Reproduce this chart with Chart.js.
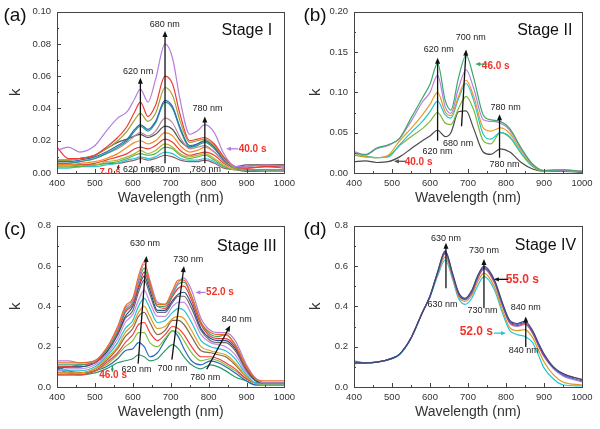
<!DOCTYPE html>
<html>
<head>
<meta charset="utf-8">
<script src="https://cdn.jsdelivr.net/npm/chart.js@4.4.1/dist/chart.umd.min.js"></script>
<style>
  body { margin: 0; background: #fff; }
  #wrap { position: relative; width: 600px; height: 429px; }
  canvas { position: absolute; }
</style>
</head>
<body>
<div id="wrap">
  <canvas id="pa" width="300" height="215" style="left:0;top:0"></canvas>
  <canvas id="pb" width="300" height="215" style="left:300px;top:0"></canvas>
  <canvas id="pc" width="300" height="215" style="left:0;top:214px"></canvas>
  <canvas id="pd" width="300" height="215" style="left:300px;top:214px"></canvas>
</div>
<script>
const FONT = '"Liberation Sans", Arial, sans-serif';

// ---- (a) Stage I : 7.0 s -> 40.0 s ----
const wlA = [400,430,460,500,530,560,585,605,620,640,660,685,705,725,750,770,790,815,840,870,900,950,1000];
const a40s = [.014,.016,.013,.017,.026,.034,.038,.046,.052,.044,.058,.080,.071,.045,.024,.026,.030,.025,.012,.004,.004,.005,.004];
const aRed1 = [.016,.009,.009,.011,.016,.022,.029,.038,.044,.035,.042,.060,.055,.036,.020,.021,.022,.018,.010,.004,.003,.004,.003];
const aOlive1 = [.008,.008,.009,.011,.015,.020,.026,.033,.037,.032,.037,.053,.048,.032,.019,.020,.021,.017,.009,.003,.002,.002,.002];
const aBlue = [.007,.007,.008,.010,.013,.017,.021,.027,.030,.027,.032,.045,.041,.028,.017,.018,.020,.016,.008,.003,.002,.002,.002];
const aTeal = [.006,.006,.007,.009,.012,.016,.020,.026,.029,.026,.031,.044,.040,.027,.016,.017,.019,.015,.008,.003,.002,.002,.002];
const aMauve = [.006,.006,.007,.009,.012,.015,.019,.023,.025,.023,.026,.034,.031,.022,.015,.016,.017,.013,.007,.003,.002,.002,.002];
const aGrey = [.008,.008,.009,.011,.015,.019,.021,.023,.024,.022,.024,.029,.027,.020,.016,.018,.020,.016,.009,.004,.005,.005,.005];
const aOrange = [.005,.005,.006,.007,.009,.012,.016,.019,.020,.018,.020,.025,.023,.017,.013,.014,.016,.013,.007,.003,.004,.005,.005];
const aRed2 = [.005,.005,.005,.006,.008,.010,.012,.015,.016,.015,.017,.021,.019,.014,.011,.012,.013,.011,.006,.003,.003,.004,.004];
const aOlive2 = [.004,.004,.005,.005,.007,.008,.010,.012,.014,.012,.014,.018,.016,.012,.010,.011,.012,.009,.005,.002,.002,.002,.002];
const aGreen = [.004,.004,.004,.005,.006,.007,.009,.011,.012,.011,.012,.016,.015,.011,.009,.010,.011,.008,.004,.002,.002,.002,.002];
const aCyan = [.003,.003,.004,.004,.005,.006,.008,.009,.010,.009,.010,.013,.012,.009,.008,.008,.009,.007,.004,.002,.002,.001,.001];
const a7s = [.004,.004,.004,.005,.006,.006,.007,.008,.009,.008,.009,.011,.010,.008,.007,.007,.008,.006,.003,.002,.001,.001,.001];

// ---- (b) Stage II : 40.0 s -> 46.0 s ----
const wlB = [400,430,460,490,520,550,580,600,620,640,655,675,695,715,740,760,785,810,840,870,900,950,1000];
const b46s = [.025,.023,.031,.035,.043,.068,.093,.110,.136,.090,.078,.118,.146,.118,.072,.066,.064,.055,.031,.011,.003,.004,.002];
const bPurple = [.027,.022,.030,.034,.043,.064,.088,.100,.121,.082,.074,.105,.128,.105,.066,.064,.062,.053,.030,.011,.003,.003,.002];
const bOrange = [.025,.020,.019,.022,.040,.055,.072,.085,.100,.076,.071,.095,.115,.095,.056,.052,.056,.049,.028,.010,.003,.003,.002];
const bCyan = [.024,.021,.019,.020,.035,.050,.064,.076,.089,.072,.068,.092,.111,.090,.048,.042,.050,.045,.025,.009,.003,.004,.002];
const bLime = [.022,.020,.019,.021,.034,.045,.055,.064,.075,.062,.060,.080,.095,.078,.040,.036,.050,.044,.024,.008,.002,.003,.002];
const b40s = [.014,.015,.013,.014,.020,.030,.040,.046,.053,.045,.050,.076,.077,.055,.026,.023,.030,.026,.013,.005,.002,.002,.001];

// ---- (c) Stage III : 46.0 s -> 52.0 s ----
const wlC = [400,430,460,500,530,560,580,600,615,630,645,665,685,705,720,735,755,780,805,825,845,870,900,925,950,1000];
const cOrange = [.12,.12,.12,.13,.19,.30,.40,.44,.55,.62,.52,.41,.41,.48,.53,.53,.45,.32,.27,.26,.26,.21,.10,.04,.03,.03];
const c52s = [.13,.13,.12,.13,.19,.29,.39,.43,.53,.61,.53,.42,.41,.47,.52,.54,.48,.34,.28,.27,.27,.23,.11,.04,.02,.02];
const cGreen = [.11,.11,.11,.13,.18,.28,.38,.42,.52,.59,.51,.40,.40,.46,.51,.52,.45,.32,.26,.25,.26,.21,.10,.04,.02,.02];
const cRed = [.10,.10,.11,.12,.18,.27,.37,.41,.50,.57,.50,.40,.39,.45,.49,.50,.43,.31,.25,.24,.24,.20,.09,.04,.02,.02];
const cNavy = [.09,.10,.10,.12,.17,.26,.35,.40,.49,.55,.48,.38,.38,.43,.46,.47,.41,.29,.24,.23,.23,.19,.09,.03,.02,.02];
const cGrey = [.10,.10,.10,.12,.17,.26,.34,.38,.47,.53,.46,.37,.37,.42,.45,.45,.39,.28,.23,.22,.22,.18,.08,.03,.02,.02];
const cLavender = [.08,.09,.09,.11,.16,.24,.32,.36,.43,.48,.42,.35,.35,.40,.42,.42,.36,.26,.22,.21,.20,.16,.07,.03,.02,.02];
const cCyan = [.08,.08,.08,.10,.15,.22,.29,.33,.40,.44,.39,.32,.33,.37,.39,.38,.32,.23,.20,.19,.18,.14,.06,.02,.02,.02];
const cGold = [.07,.07,.07,.09,.14,.20,.27,.31,.37,.40,.35,.29,.30,.34,.35,.34,.28,.20,.18,.17,.16,.12,.05,.02,.02,.02];
const cBrown = [.07,.07,.07,.09,.13,.19,.25,.29,.35,.37,.32,.26,.28,.33,.33,.31,.25,.18,.17,.16,.15,.11,.05,.02,.02,.02];
const cRed2 = [.06,.06,.06,.08,.12,.17,.22,.26,.31,.32,.27,.23,.26,.30,.29,.26,.20,.15,.15,.14,.12,.09,.04,.02,.02,.02];
const cLime = [.06,.06,.06,.08,.11,.16,.20,.23,.27,.27,.22,.20,.24,.28,.27,.23,.17,.13,.14,.13,.11,.08,.04,.02,.01,.01];
const cBlue = [.10,.08,.07,.08,.10,.14,.18,.19,.22,.20,.15,.17,.23,.28,.25,.19,.13,.11,.13,.12,.10,.07,.03,.01,.01,.01];
const c46s = [.09,.07,.06,.07,.09,.12,.13,.14,.16,.15,.13,.14,.18,.21,.19,.15,.11,.09,.11,.10,.08,.05,.03,.01,.01,.01];

// ---- (d) Stage IV : 52.0 s -> 55.0 s ----
const wlD = [400,430,460,500,520,550,580,600,620,640,660,675,692,710,725,742,770,790,810,830,850,870,885,900,925,950,1000];
const d55s = [.12,.12,.123,.142,.163,.243,.37,.45,.57,.675,.56,.47,.44,.48,.55,.60,.53,.42,.33,.315,.326,.28,.22,.165,.10,.067,.035];
const dBlue = [.12,.12,.123,.142,.163,.243,.37,.45,.57,.67,.555,.465,.437,.475,.545,.595,.525,.415,.325,.31,.32,.275,.215,.16,.095,.06,.03];
const dRed = [.125,.12,.123,.142,.163,.243,.37,.45,.565,.665,.55,.46,.435,.47,.54,.59,.52,.41,.32,.305,.315,.27,.21,.155,.095,.065,.038];
const dPurple = [.115,.12,.123,.142,.163,.243,.37,.45,.565,.66,.55,.46,.432,.465,.535,.585,.515,.405,.315,.30,.31,.265,.205,.15,.09,.055,.025];
const dOrange = [.12,.12,.123,.142,.163,.243,.37,.45,.56,.645,.54,.45,.425,.455,.52,.565,.495,.385,.295,.28,.285,.245,.185,.125,.06,.025,.01];
const d52s = [.13,.12,.123,.14,.16,.24,.37,.445,.55,.63,.53,.44,.41,.44,.50,.547,.48,.37,.28,.26,.25,.22,.16,.095,.04,.011,.005];

// draws frame, inward ticks, arrows and labels
const decor = {
    id: 'decor',
    afterDatasetsDraw(chart, args, opts) {
        const {ctx, chartArea: ca, scales: {x, y}} = chart;
        ctx.save();
        ctx.strokeStyle = '#444';
        ctx.lineWidth = 1;
        ctx.beginPath();
        for (let v = 400; v <= 1000; v += 50) {
            const px = Math.round(x.getPixelForValue(v)) + 0.5;
            const len = v % 100 === 0 ? 4 : 2;
            ctx.moveTo(px, ca.bottom);
            ctx.lineTo(px, ca.bottom - len);
        }
        const n = Math.round(y.max / (opts.yStep / 2));
        for (let i = 0; i <= n; i++) {
            const py = Math.round(y.getPixelForValue(i * opts.yStep / 2)) + 0.5;
            const len = i % 2 === 0 ? 4 : 2;
            ctx.moveTo(ca.left, py);
            ctx.lineTo(ca.left + len, py);
        }
        ctx.stroke();
        ctx.strokeRect(Math.round(ca.left) + 0.5, Math.round(ca.top) + 0.5, Math.round(ca.width), Math.round(ca.height));

        opts.arrows.forEach(a => {
            const x1 = x.getPixelForValue(a[0]), y1 = y.getPixelForValue(a[1]);
            const x2 = x.getPixelForValue(a[2]), y2 = y.getPixelForValue(a[3]);
            const col = a[4] || '#111';
            const ang = Math.atan2(y2 - y1, x2 - x1);
            const hl = a[5] || 6, hw = (a[5] || 6) * 0.42;
            ctx.strokeStyle = col;
            ctx.fillStyle = col;
            ctx.lineWidth = 1.3;
            ctx.beginPath();
            ctx.moveTo(x1, y1);
            ctx.lineTo(x2 - Math.cos(ang) * hl * 0.8, y2 - Math.sin(ang) * hl * 0.8);
            ctx.stroke();
            ctx.beginPath();
            ctx.moveTo(x2, y2);
            ctx.lineTo(x2 - Math.cos(ang) * hl - Math.sin(ang) * hw, y2 - Math.sin(ang) * hl + Math.cos(ang) * hw);
            ctx.lineTo(x2 - Math.cos(ang) * hl + Math.sin(ang) * hw, y2 - Math.sin(ang) * hl - Math.cos(ang) * hw);
            ctx.closePath();
            ctx.fill();
        });

        ctx.textAlign = 'center';
        ctx.textBaseline = 'middle';
        opts.texts.forEach(t => {
            ctx.font = (t[4] ? 'bold ' : '') + (t[3] || 9) + 'px ' + FONT;
            ctx.fillStyle = t[5] || '#222';
            ctx.fillText(t[2], x.getPixelForValue(t[0]), y.getPixelForValue(t[1]));
        });

        ctx.font = '16px ' + FONT;
        ctx.fillStyle = '#111';
        ctx.fillText(opts.stage[0], x.getPixelForValue(opts.stage[1]), y.getPixelForValue(opts.stage[2]));
        ctx.font = '19px ' + FONT;
        ctx.fillText(opts.letter, 15, 16);
        ctx.restore();
    }
};

function panel(id, wl, curves, colors, yMax, yStep, decimals, left, deco) {
    deco.yStep = yStep;
    return new Chart(document.getElementById(id), {
        type: 'line',
        data: {
            datasets: curves.map((vals, i) => ({
                data: wl.map((w, j) => ({x: w, y: vals[j]})),
                borderColor: colors[i],
                borderWidth: 1.2,
                pointRadius: 0,
                fill: false,
                cubicInterpolationMode: 'monotone',
            })),
        },
        options: {
            responsive: false,
            animation: false,
            events: [],
            layout: {
                padding: {top: 7, right: 300 - left - 228, left: 0, bottom: 0},
            },
            scales: {
                x: {
                    type: 'linear',
                    min: 400,
                    max: 1000,
                    border: {display: false},
                    grid: {display: false, drawTicks: false},
                    ticks: {
                        stepSize: 100,
                        autoSkip: false,
                        padding: 5,
                        color: '#333',
                        font: {size: 9.5, family: FONT},
                        callback: (v) => String(v),
                    },
                    title: {display: true, text: 'Wavelength (nm)', color: '#333', font: {size: 14, family: FONT}, padding: {top: 0, bottom: 8}},
                    afterFit: (s) => { s.height = 42; },
                },
                y: {
                    min: 0,
                    max: yMax,
                    border: {display: false},
                    grid: {display: false, drawTicks: false},
                    ticks: {
                        stepSize: yStep,
                        autoSkip: false,
                        padding: 6,
                        color: '#333',
                        font: {size: 9.5, family: FONT},
                        callback: (v) => v.toFixed(decimals),
                    },
                    title: {display: true, text: 'k', color: '#333', font: {size: 15, family: FONT}, padding: {top: 7, bottom: 0}},
                    afterFit: (s) => { s.width = left; },
                },
            },
            plugins: {
                legend: {display: false},
                tooltip: {enabled: false},
                decor: deco,
            },
        },
        plugins: [decor],
    });
}

const RED = '#f2342c';

panel('pa', wlA,
    [a40s, aRed1, aOlive1, aBlue, aTeal, aMauve, aGrey, aOrange, aRed2, aOlive2, aGreen, aCyan, a7s],
    ['#b57edc', '#f03c32', '#a6a035', '#2f6db5', '#1f9e8e', '#b88a9a', '#555555', '#f58a1f', '#e8403a', '#b7b33a', '#4fb34a', '#2bc4d8', '#9a5d6e'],
    0.10, 0.02, 2, 57, {
        letter: '(a)',
        stage: ['Stage I', 901, 0.088],
        arrows: [
            [620, 0.006, 620, 0.059],
            [685, 0.006, 685, 0.088],
            [790, 0.006, 790, 0.035],
            [878, 0.015, 846, 0.015, '#b57edc', 5],
            [563, 0.005, 560, 0.0015, '#8b1a1a', 4],
        ],
        texts: [
            [614, 0.063, '620 nm'],
            [684, 0.092, '680 nm'],
            [797, 0.040, '780 nm'],
            [614, 0.002, '620 nm'],
            [685, 0.002, '680 nm'],
            [793, 0.002, '780 nm'],
            [540, 0.001, '7.0 s', 9.5, true, RED],
            [916, 0.015, '40.0 s', 10, true, RED],
        ],
    });

panel('pb', wlB,
    [b46s, bPurple, bOrange, bCyan, bLime, b40s],
    ['#3aa86b', '#b57edc', '#e89b2a', '#22c5cf', '#7cb83a', '#4a4a4a'],
    0.20, 0.05, 2, 54, {
        letter: '(b)',
        stage: ['Stage II', 902, 0.177],
        arrows: [
            [620, 0.040, 620, 0.143],
            [683, 0.058, 695, 0.153],
            [783, 0.019, 783, 0.073],
            [537, 0.0145, 505, 0.0145, '#555555', 5],
            [751, 0.135, 719, 0.135, '#3aa86b', 5],
        ],
        texts: [
            [623, 0.153, '620 nm'],
            [707, 0.168, '700 nm'],
            [799, 0.081, '780 nm'],
            [620, 0.027, '620 nm'],
            [674, 0.037, '680 nm'],
            [796, 0.011, '780 nm'],
            [570, 0.013, '40.0 s', 10, true, RED],
            [773, 0.132, '46.0 s', 10, true, RED],
        ],
    });

panel('pc', wlC,
    [cOrange, c52s, cGreen, cRed, cNavy, cGrey, cLavender, cCyan, cGold, cBrown, cRed2, cLime, cBlue, c46s],
    ['#f06a1e', '#b57edc', '#3aa86b', '#e83a3a', '#2a4f8f', '#6a6a6a', '#c48fe0', '#22c0d0', '#e0a020', '#8a6a4a', '#f04040', '#80c040', '#2a6ab8', '#2a9a6a'],
    0.8, 0.2, 1, 57, {
        letter: '(c)',
        stage: ['Stage III', 901, 0.694],
        arrows: [
            [614, 0.116, 636, 0.65],
            [703, 0.136, 735, 0.60],
            [795, 0.088, 857, 0.305],
            [792, 0.469, 765, 0.469, '#b57edc', 5],
            [546, 0.105, 546, 0.072, '#2a9a6a', 4],
        ],
        texts: [
            [632, 0.71, '630 nm'],
            [746, 0.63, '730 nm'],
            [874, 0.334, '840 nm'],
            [610, 0.085, '620 nm'],
            [705, 0.092, '700 nm'],
            [791, 0.045, '780 nm'],
            [548, 0.06, '46.0 s', 10, true, RED],
            [830, 0.469, '52.0 s', 10, true, RED],
        ],
    });

panel('pd', wlD,
    [d55s, dBlue, dRed, dPurple, dOrange, d52s],
    ['#3b4a7a', '#4a6ad0', '#e03030', '#b07ad8', '#d89a20', '#20c8d8'],
    0.8, 0.2, 1, 54, {
        letter: '(d)',
        stage: ['Stage IV', 904, 0.70],
        arrows: [
            [642, 0.49, 642, 0.715],
            [742, 0.39, 742, 0.635],
            [852, 0.198, 852, 0.35],
            [806, 0.534, 768, 0.534, '#111', 5],
            [768, 0.267, 800, 0.267, '#20c8d8', 5],
        ],
        texts: [
            [642, 0.734, '630 nm'],
            [633, 0.41, '630 nm'],
            [742, 0.675, '730 nm'],
            [738, 0.378, '730 nm'],
            [852, 0.393, '840 nm'],
            [847, 0.179, '840 nm'],
            [843, 0.534, '55.0 s', 12, true, RED],
            [722, 0.275, '52.0 s', 12, true, RED],
        ],
    });
</script>
</body>
</html>
